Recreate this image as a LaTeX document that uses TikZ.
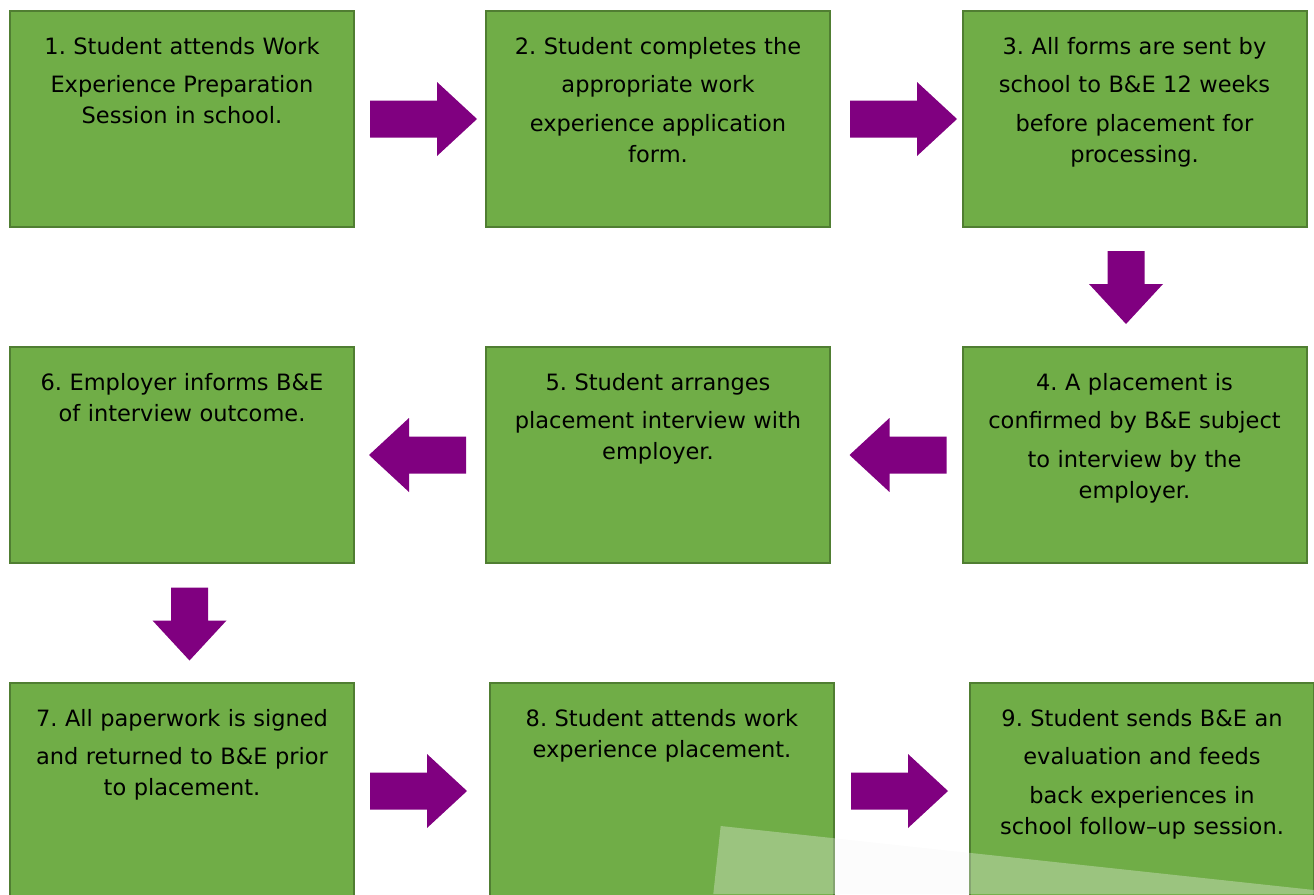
\documentclass[tikz,border=0pt]{standalone}
\usepackage{fontspec}
\setmainfont{DejaVu Sans}
\usetikzlibrary{positioning,calc}
\definecolor{stepgreen}{HTML}{70AD47}
\definecolor{stepedge}{HTML}{507E32}
\definecolor{arrowpurple}{HTML}{800080}
\frenchspacing
\tikzset{
	stepbox/.style={draw=stepedge, line width=2pt, fill=stepgreen,
			minimum width=344pt, minimum height=216pt, inner sep=0pt},
	steptext/.style={anchor=base, text width=336pt, align=center, inner sep=0pt,
			font=\fontsize{22.5}{31}\selectfont},
	fatarrow/.style={fill=arrowpurple}
}
% block arrow: tail point, direction, length
\newcommand{\fatarrow}[3]{%
	\fill[fatarrow, shift={#1}, rotate=#2] (0,-18.5) -- (#3-40,-18.5) -- (#3-40,-37)
	-- (#3,0) -- (#3-40,37) -- (#3-40,18.5) -- (0,18.5) -- cycle;}

\begin{document}
\begin{tikzpicture}[x=1pt,y=1pt]
	\useasboundingbox (0,0) rectangle (1314,-894);
	\clip (0,0) rectangle (1314,-894);

	\node[stepbox] (b1) at (182,-119) {};
	\node[stepbox] (b2) at (658,-119) {};
	\node[stepbox] (b3) at (1134.5,-119) {};
	\node[stepbox] (b4) at (1134.5,-455) {};
	\node[stepbox] (b5) at (658,-455) {};
	\node[stepbox] (b6) at (182,-455) {};
	\node[stepbox] (b7) at (182,-791) {};
	\node[stepbox] (b8) at (662,-791) {};
	\node[stepbox] (b9) at (1142,-791) {};

	\node[steptext] (t1) at ([yshift=-44pt]b1.north) {1. Student attends Work\\[7pt]
		Experience Preparation\\ Session in school.};
	\node[steptext] (t2) at ([yshift=-44pt]b2.north) {2. Student completes the\\[7pt]
		appropriate work\\[8pt] experience application\\ form.};
	\node[steptext] (t3) at ([yshift=-44pt]b3.north) {3. All forms are sent by\\[7pt]
		school to B\&E 12 weeks\\[8pt] before placement for\\ processing.};
	\node[steptext] (t4) at ([yshift=-44pt]b4.north) {4. A placement is\\[7pt]
		confirmed by B\&E subject\\[8pt] to interview by the\\ employer.};
	\node[steptext] (t5) at ([yshift=-44pt]b5.north) {5. Student arranges\\[7pt]
		placement interview with\\ employer.};
	\node[steptext] (t6) at ([yshift=-44pt]b6.north) {6. Employer informs B\&E\\
		of interview outcome.};
	\node[steptext] (t7) at ([yshift=-44pt]b7.north) {7. All paperwork is signed\\[7pt]
		and returned to B\&E prior\\ to placement.};
	\node[steptext] (t8) at ([yshift=-44pt]b8.north) {8. Student attends work\\
		experience placement.};
	\node[steptext] (t9) at ([yshift=-44pt]b9.north) {9. Student sends B\&E an\\[7pt]
		evaluation and feeds\\[8pt] back experiences in\\ school follow--up session.};

	\fatarrow{([xshift=15pt]b1.east)}{0}{107}
	\fatarrow{([xshift=19pt]b2.east)}{0}{107}
	\fatarrow{([xshift=-8.5pt,yshift=-23pt]b3.south)}{-90}{73}
	\fatarrow{([xshift=-15pt]b4.west)}{180}{97}
	\fatarrow{([xshift=-19pt]b5.west)}{180}{97}
	\fatarrow{([xshift=7.5pt,yshift=-23.5pt]b6.south)}{-90}{73}
	\fatarrow{([xshift=15pt]b7.east)}{0}{97}
	\fatarrow{([xshift=16pt]b8.east)}{0}{97}

	% light sheet over the last row
	\fill[white!97!black, opacity=0.32] (720.7,-826) -- (1314,-890) -- (1314,-894)
		-- (713.3,-894) -- cycle;
\end{tikzpicture}
\end{document}
